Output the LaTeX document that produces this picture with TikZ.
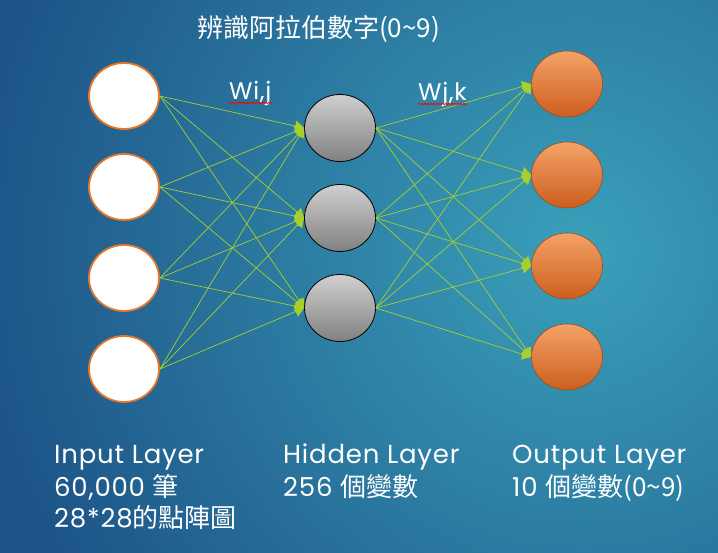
\documentclass[tikz,border=0pt]{standalone}
\usepackage{fontspec}
\setmainfont[LetterSpace=3]{Poppins}
\newfontfamily\cjk{Noto Sans CJK TC}
\usetikzlibrary{arrows.meta,positioning,shapes.geometric,decorations.pathmorphing}
\definecolor{bgdark}{RGB}{28,82,134}
\definecolor{bglight}{RGB}{58,160,186}
\definecolor{netgreen}{RGB}{165,208,45}
\definecolor{ringorange}{RGB}{232,118,42}
\definecolor{orangetop}{RGB}{244,162,104}
\definecolor{orangebot}{RGB}{204,94,30}
\definecolor{graytop}{RGB}{208,208,208}
\definecolor{graybot}{RGB}{128,128,128}

\begin{document}
\begin{tikzpicture}[x=1pt, y=-1pt, node distance=91pt, inner sep=0pt]
    \tikzstyle{inp}=[ellipse, minimum width=70pt, minimum height=66pt, fill=white, draw=ringorange, line width=1.8pt]
    \tikzstyle{hid}=[ellipse, minimum width=71pt, minimum height=67pt, top color=graytop, bottom color=graybot, draw=black, line width=0.8pt]
    \tikzstyle{outp}=[ellipse, minimum width=71pt, minimum height=66pt, top color=orangetop, bottom color=orangebot, draw=orangebot!80!black, line width=0.6pt]
    \tikzstyle{link}=[-{Triangle[length=9pt,width=11pt]}, draw=netgreen, line width=0.7pt]
    \tikzstyle{lbl}=[text=white, anchor=base west, font=\fontsize{26}{30}\selectfont]
    \tikzstyle{wlbl}=[text=white, anchor=base west, font=\fontsize{24}{28}\selectfont]
    \tikzstyle{squig}=[draw=red, line width=0.7pt, decorate, decoration={snake, amplitude=0.9pt, segment length=3pt}]

    % background
    \useasboundingbox (0,0) rectangle (718,553);
    \fill[bgdark] (0,0) rectangle (718,553);
    \begin{scope}
        \clip (0,0) rectangle (718,553);
        \shade[inner color=bglight, outer color=bgdark] (580,250) circle (620);
    \end{scope}

    % input layer
    \node[inp] (I1) at (124,96) {};
    \node[inp] (I2) [below of=I1] {};
    \node[inp] (I3) [below of=I2] {};
    \node[inp] (I4) [below of=I3] {};

    % hidden layer
    \node[hid] (H1) at (340,128) {};
    \node[hid] (H2) [below of=H1, node distance=90pt] {};
    \node[hid] (H3) [below of=H2, node distance=90pt] {};

    % output layer
    \node[outp] (O1) at (567,84) {};
    \node[outp] (O2) [below of=O1] {};
    \node[outp] (O3) [below of=O2] {};
    \node[outp] (O4) [below of=O3] {};

    % input -> hidden
    \draw[link] (I1.east) -- (H1.west);
    \draw[link] (I1.east) -- (H2.west);
    \draw[link] (I1.east) -- (H3.west);
    \draw[link] (I2.east) -- (H1.west);
    \draw[link] (I2.east) -- (H2.west);
    \draw[link] (I2.east) -- (H3.west);
    \draw[link] (I3.east) -- (H1.west);
    \draw[link] (I3.east) -- (H2.west);
    \draw[link] (I3.east) -- (H3.west);
    \draw[link] (I4.east) -- (H1.west);
    \draw[link] (I4.east) -- (H2.west);
    \draw[link] (I4.east) -- (H3.west);

    % hidden -> output
    \draw[link] (H1.east) -- (O1.west);
    \draw[link] (H1.east) -- (O2.west);
    \draw[link] (H1.east) -- (O3.west);
    \draw[link] (H1.east) -- (O4.west);
    \draw[link] (H2.east) -- (O1.west);
    \draw[link] (H2.east) -- (O2.west);
    \draw[link] (H2.east) -- (O3.west);
    \draw[link] (H2.east) -- (O4.west);
    \draw[link] (H3.east) -- (O1.west);
    \draw[link] (H3.east) -- (O2.west);
    \draw[link] (H3.east) -- (O3.west);
    \draw[link] (H3.east) -- (O4.west);

    % weights
    \node[wlbl] (Wij) at (229,100) {Wi,j};
    \node[wlbl] (Wjk) at (418,101) {Wj,k};
    \draw[squig] ([yshift=-3pt] Wij.base west) -- ([yshift=-3pt] Wij.base east);
    \draw[squig] ([yshift=-3pt] Wjk.base west) -- ([yshift=-3pt] Wjk.base east);

    % title
    \node[lbl] (title) at (197,38) {\cjk{辨識阿拉伯數字}(0\char`~9)};

    % layer captions
    \node[lbl] (inA) at (54,463) {Input Layer};
    \node[lbl] (inB) at (54,496) {60,000 \cjk{筆}};
    \node[lbl] (inC) at (54,527) {28*28\cjk{的點陣圖}};
    \node[lbl] (hidA) at (283,463) {Hidden Layer};
    \node[lbl] (hidB) at (283,496) {256 \cjk{個變數}};
    \node[lbl] (outA) at (512,463) {Output Layer};
    \node[lbl] (outB) at (512,496) {10 \cjk{個變數}(0\char`~9)};
\end{tikzpicture}
\end{document}
